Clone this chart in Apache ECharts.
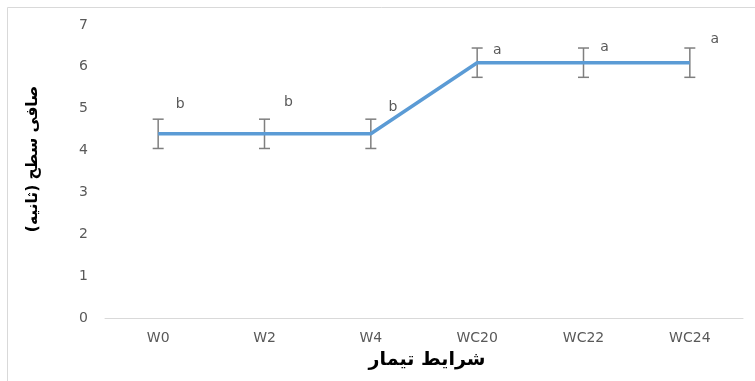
<!DOCTYPE html>
<html>
<head>
<meta charset="utf-8">
<script src="https://cdn.jsdelivr.net/npm/echarts@6/dist/echarts.min.js"></script>
<style>
  html, body { margin: 0; padding: 0; background: #ffffff; }
  #chart { width: 755px; height: 381px; }
</style>
</head>
<body>
<div id="chart"></div>
<script>
// Treatment conditions and measured surface smoothness (seconds)
const categories = ['W0', 'W2', 'W4', 'WC20', 'WC22', 'WC24'];
const meanValues = [4.4, 4.4, 4.4, 6.1, 6.1, 6.1];
const errorValues = [0.35, 0.35, 0.35, 0.35, 0.35, 0.35];
const groupLetters = ['b', 'b', 'b', 'a', 'a', 'a'];
const yTickLabels = ['0', '1', '2', '3', '4', '5', '6', '7'];

const xTitle = 'شرایط تیمار';
const yTitle = 'صافی سطح (ثانیه)';

// pixel offsets of the significance letters from their points
const letterOffsets = [[22, -29], [24, -31], [22, -26], [20, -12], [21, -15], [25, -23]];

const tickFont = 'DejaVu Sans';
const tickColor = '#595959';

const chart = echarts.init(document.getElementById('chart'), null, { renderer: 'canvas' });

const errorData = categories.map((c, i) => [i, meanValues[i] - errorValues[i], meanValues[i] + errorValues[i]]);
const letterData = categories.map((c, i) => [i, meanValues[i], groupLetters[i]]);

chart.setOption({
  animation: false,
  backgroundColor: '#ffffff',
  grid: { left: 105, right: 12, top: 25, bottom: 63 },
  xAxis: {
    type: 'category',
    data: categories,
    boundaryGap: true,
    axisLine: { lineStyle: { color: '#d9d9d9', width: 1 } },
    axisTick: { show: false },
    axisLabel: { color: tickColor, fontFamily: tickFont, fontSize: 14, margin: 13 }
  },
  yAxis: {
    type: 'value',
    min: 0,
    max: 7,
    interval: 1,
    splitLine: { show: false },
    axisLine: { show: false },
    axisTick: { show: false },
    axisLabel: {
      color: tickColor, fontFamily: tickFont, fontSize: 14, margin: 17,
      formatter: (v) => yTickLabels[Math.round(v)]
    }
  },
  graphic: [
    {
      type: 'rect',
      shape: { x: 7.5, y: 7.5, width: 760, height: 390 },
      style: { fill: 'none', stroke: '#d9d9d9', lineWidth: 1 },
      silent: true
    },
    {
      type: 'text',
      x: 427,
      y: 360,
      style: {
        text: xTitle, fontFamily: 'DejaVu Sans', fontWeight: 'bold',
        fontSize: 19, fill: '#000000', align: 'center', verticalAlign: 'middle'
      }
    },
    {
      type: 'text',
      x: 33,
      y: 159,
      rotation: Math.PI / 2,
      style: {
        text: yTitle, fontFamily: 'DejaVu Sans', fontWeight: 'bold',
        fontSize: 15.5, fill: '#000000', align: 'center', verticalAlign: 'middle'
      }
    }
  ],
  series: [
    {
      type: 'line',
      data: meanValues,
      symbol: 'none',
      lineStyle: { color: '#5b9bd5', width: 3.5 },
      z: 3
    },
    {
      type: 'custom',
      data: errorData,
      z: 2,
      renderItem: (params, api) => {
        const x = api.value(0);
        const lo = api.coord([x, api.value(1)]);
        const hi = api.coord([x, api.value(2)]);
        const cap = 5.5;
        const style = { stroke: '#7f7f7f', lineWidth: 1.5 };
        return {
          type: 'group',
          children: [
            { type: 'line', shape: { x1: lo[0], y1: lo[1], x2: hi[0], y2: hi[1] }, style },
            { type: 'line', shape: { x1: hi[0] - cap, y1: hi[1], x2: hi[0] + cap, y2: hi[1] }, style },
            { type: 'line', shape: { x1: lo[0] - cap, y1: lo[1], x2: lo[0] + cap, y2: lo[1] }, style }
          ]
        };
      }
    },
    {
      type: 'custom',
      data: letterData,
      z: 4,
      renderItem: (params, api) => {
        const i = params.dataIndex;
        const p = api.coord([api.value(0), api.value(1)]);
        const off = letterOffsets[i];
        return {
          type: 'text',
          x: p[0] + off[0],
          y: p[1] + off[1],
          style: {
            text: groupLetters[i], fontFamily: tickFont, fontSize: 14,
            fill: tickColor, align: 'center', verticalAlign: 'middle'
          }
        };
      }
    }
  ]
});
</script>
</body>
</html>
